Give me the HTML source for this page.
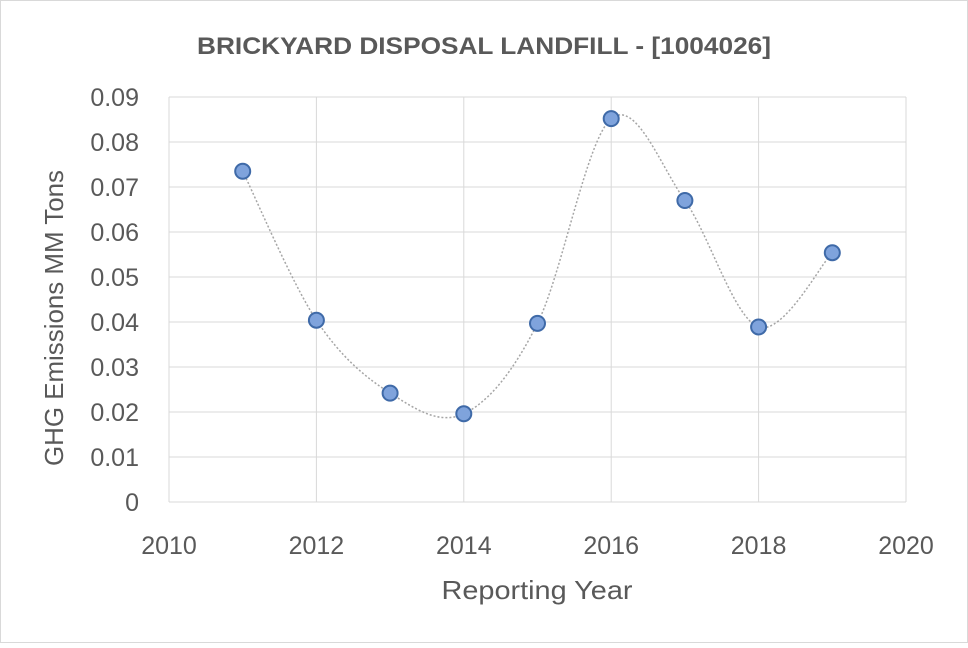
<!DOCTYPE html>
<html><head><style>
body{margin:0;background:#fff;}
svg text{font-family:"Liberation Sans",sans-serif;fill:#595959;}
</style></head><body>
<svg width="968" height="643" viewBox="0 0 968 643" xmlns="http://www.w3.org/2000/svg">
<rect x="0.5" y="0.5" width="967" height="642" fill="#fff" stroke="#d9d9d9"/>
<text x="484" y="54" text-anchor="middle" font-size="24" font-weight="bold" textLength="574" lengthAdjust="spacingAndGlyphs">BRICKYARD DISPOSAL LANDFILL - [1004026]</text>
<g stroke="#d9d9d9" stroke-width="1" id="grid"></g>
<g font-size="25" id="labels"></g>
<path id="curve" fill="none" stroke="#a6a6a6" stroke-width="1.5" stroke-dasharray="2,2"/>
<g id="pts"></g>
<text x="537" y="599" text-anchor="middle" font-size="26" textLength="191" lengthAdjust="spacingAndGlyphs">Reporting Year</text>
<text transform="translate(63,318) rotate(-90)" text-anchor="middle" font-size="26" textLength="296" lengthAdjust="spacingAndGlyphs">GHG Emissions MM Tons</text>
</svg>
<script>
const NS="http://www.w3.org/2000/svg";
const x0=169,x1=906,y0=502,y1=97;
const X=v=>x0+(v-2010)/10*(x1-x0), Y=v=>y0+(v/0.09)*(y1-y0);
const g=document.getElementById('grid'),l=document.getElementById('labels');
function el(p,t,a,txt){const e=document.createElementNS(NS,t);for(const k in a)e.setAttribute(k,a[k]);if(txt!==undefined)e.textContent=txt;p.appendChild(e);return e;}
for(let i=0;i<=9;i++){const y=Y(i/100);el(g,'line',{x1:x0,x2:x1,y1:y,y2:y});
el(l,'text',{x:139,y:y+9,'text-anchor':'end'},i==0?'0':(i/100).toFixed(2));}
for(let yr=2010;yr<=2020;yr+=2){const x=X(yr);el(g,'line',{x1:x,x2:x,y1:y0,y2:y1});
el(l,'text',{x:x,y:554,'text-anchor':'middle'},yr);}
const d=[[2011,0.0735],[2012,0.0404],[2013,0.0242],[2014,0.0196],[2015,0.0397],[2016,0.0852],[2017,0.067],[2018,0.0389],[2019,0.0554]].map(p=>[X(p[0]),Y(p[1])]);
let s="M"+d[0];
for(let i=0;i<d.length-1;i++){const p0=d[Math.max(i-1,0)],p1=d[i],p2=d[i+1],p3=d[Math.min(i+2,d.length-1)];
const t=1/6;s+=` C${p1[0]+(p2[0]-p0[0])*t},${p1[1]+(p2[1]-p0[1])*t} ${p2[0]-(p3[0]-p1[0])*t},${p2[1]-(p3[1]-p1[1])*t} ${p2[0]},${p2[1]}`;}
document.getElementById('curve').setAttribute('d',s);
const pg=document.getElementById('pts');
d.forEach(p=>el(pg,'circle',{cx:p[0],cy:p[1],r:7.5,fill:'#7fa3dc',stroke:'#3f6aa8','stroke-width':2}));
</script>
</body></html>
